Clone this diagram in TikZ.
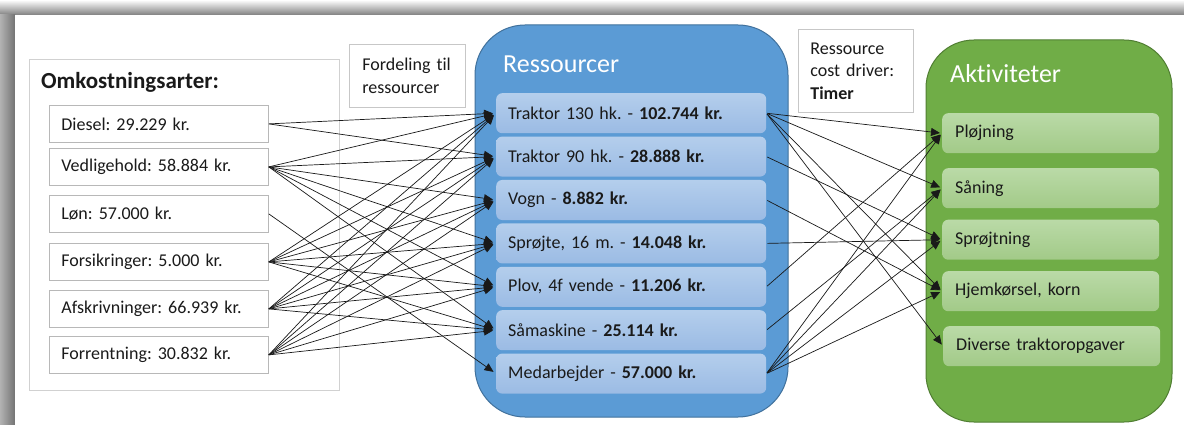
\documentclass[tikz,border=0pt]{standalone}
\usepackage{fontspec}
\setmainfont{Carlito}[Ligatures=NoCommon]
\frenchspacing
\usetikzlibrary{arrows.meta}
\definecolor{blueF}{HTML}{5B9BD5}
\definecolor{blueD}{HTML}{41719C}
\definecolor{greenF}{HTML}{70AD47}
\definecolor{greenD}{HTML}{507E32}
\definecolor{itemBT}{HTML}{B4CEEC}
\definecolor{itemBB}{HTML}{9BBBE4}
\definecolor{itemGT}{HTML}{BADAA7}
\definecolor{itemGB}{HTML}{A2CA88}
\definecolor{txt}{HTML}{1A1A1A}
\begin{document}
\begin{tikzpicture}[x=1pt,y=-1pt,
  every node/.style={font=\fontsize{18}{22.5}\selectfont, text=txt},
  costbox/.style={draw=black!28, line width=0.8pt, fill=white, anchor=north west,
    minimum width=219pt, minimum height=37pt, text width=195pt, inner xsep=12pt, inner ysep=0pt, align=left},
  resitem/.style={rounded corners=6pt, top color=itemBT, bottom color=itemBB, anchor=north west,
    minimum width=270pt, minimum height=40pt, text width=246pt, inner xsep=12pt, inner ysep=0pt, align=left},
  actitem/.style={rounded corners=6pt, top color=itemGT, bottom color=itemGB, anchor=north west,
    minimum width=217pt, minimum height=40pt, text width=191pt, inner xsep=13pt, inner ysep=0pt, align=left},
  notebox/.style={draw=black!22, line width=0.8pt, fill=white, anchor=north west, inner ysep=0pt, align=left},
  heading/.style={font=\fontsize{26}{30}\selectfont, text=white, anchor=base west, inner sep=0pt},
  conn/.style={draw=black!90, line width=0.7pt, -{Triangle[length=9pt,width=8pt]}, shorten >=3pt},
  connr/.style={draw=black!90, line width=0.7pt, -{Triangle[length=9pt,width=8pt]}, shorten >=2pt, shorten <=1pt}
]
\useasboundingbox (0,0) rectangle (1184,425);
\fill[white] (0,0) rectangle (1184,425);
% page shadow
\shade[top color=white, bottom color=black!50] (0,0) rectangle (1184,15);
\shade[left color=black!30, right color=black!55] (0,15) rectangle (15,425);
\fill[white] (15,15) rectangle (1184,425);

% left outer box
\draw[black!18, line width=1pt] (29,60) rectangle (339,390);
\node[font=\fontsize{23}{26}\selectfont\bfseries, anchor=base west, inner sep=0pt] (title) at (41,89) {Omkostningsarter:};

\node[costbox] (diesel) at (49,105) {Diesel: 29.229 kr.};
\node[costbox] (vedl) at (49,148) {Vedligehold: 58.884 kr.};
\node[costbox] (lon) at (49,195) {Løn: 57.000 kr.};
\node[costbox] (fors) at (49,243) {Forsikringer: 5.000 kr.};
\node[costbox] (afskr) at (49,290) {Afskrivninger: 66.939 kr.};
\node[costbox] (forr) at (49,336) {Forrentning: 30.832 kr.};

% note boxes
\node[notebox, minimum width=116pt, minimum height=63pt, text width=90pt, inner xsep=13pt] (fordel) at (349,44) {Fordeling til\\ressourcer};
\node[notebox, minimum width=115pt, minimum height=83pt, text width=91pt, inner xsep=12pt] (driver) at (798,29) {Ressource\\cost driver:\\\textbf{Timer}};

% resources container
\draw[fill=blueF, draw=blueD, line width=1pt, rounded corners=50pt] (475,25) rectangle (788,417);
\node[heading] (reshead) at (503,73) {Ressourcer};
\node[resitem] (t130) at (496,93) {Traktor 130 hk. - \textbf{102.744 kr.}};
\node[resitem] (t90) at (496,136.4) {Traktor 90 hk. - \textbf{28.888 kr.}};
\node[resitem] (vogn) at (496,179.8) {Vogn - \textbf{8.882 kr.}};
\node[resitem] (sprojte) at (496,223.2) {Sprøjte, 16 m. - \textbf{14.048 kr.}};
\node[resitem] (plov) at (496,266.6) {Plov, 4f vende - \textbf{11.206 kr.}};
\node[resitem] (saam) at (496,310) {Såmaskine - \textbf{25.114 kr.}};
\node[resitem] (medarb) at (496,353.4) {Medarbejder - \textbf{57.000 kr.}};

% activities container
\draw[fill=greenF, draw=greenD, line width=1pt, rounded corners=48pt] (926,40) rectangle (1172,422);
\node[heading] (akthead) at (950,83) {Aktiviteter};
\node[actitem] (ploj) at (942,113) {Pløjning};
\node[actitem] (saan) at (942,168) {Såning};
\node[actitem] (sproj) at (942,219.5) {Sprøjtning};
\node[actitem] (hjem) at (942,271) {Hjemkørsel, korn};
\node[actitem] (div) at (943,326) {Diverse traktoropgaver};

% cost -> resources
\foreach \s/\t in {diesel/t130, diesel/t90, lon/medarb,
  vedl/t130, vedl/t90, vedl/vogn, vedl/sprojte, vedl/plov, vedl/saam,
  fors/t130, fors/t90, fors/vogn, fors/sprojte, fors/plov, fors/saam,
  afskr/t130, afskr/t90, afskr/vogn, afskr/sprojte, afskr/plov, afskr/saam,
  forr/t130, forr/t90, forr/vogn, forr/sprojte, forr/plov, forr/saam}
  \draw[conn] (\s.east) -- (\t.west);

% resources -> activities
\foreach \s/\t in {t130/ploj, t130/saan, t130/hjem, t130/div,
  t90/sproj, vogn/hjem, sprojte/sproj, plov/ploj, saam/saan,
  medarb/ploj, medarb/saan, medarb/sproj, medarb/hjem}
  \draw[connr] (\s.east) -- (\t.west);
\end{tikzpicture}
\end{document}
